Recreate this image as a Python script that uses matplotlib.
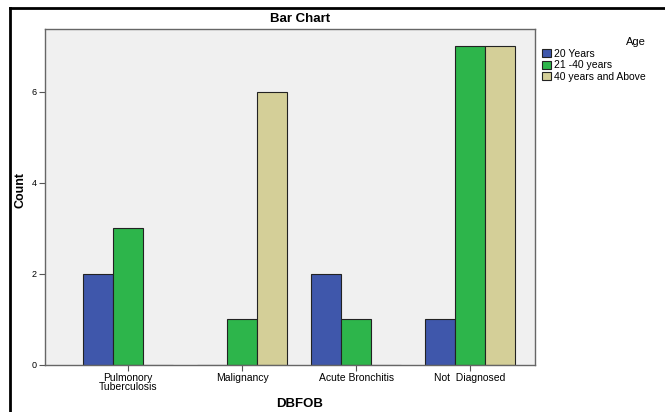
import matplotlib.pyplot as plt
import numpy as np
from matplotlib.lines import Line2D

plt.rcParams['font.family'] = ['Liberation Sans', 'DejaVu Sans']

categories = ["Pulmonory\nTuberculosis", "Malignancy", "Acute Bronchitis", "Not  Diagnosed"]
age_groups = ["20 Years", "21 -40 years", "40 years and Above"]
counts_20 = [2, 0, 2, 1]
counts_21_40 = [3, 1, 1, 7]
counts_40_plus = [0, 6, 0, 7]
colors = ["#3f57ab", "#2db54b", "#d4cf98"]

fig = plt.figure(figsize=(6.65, 4.12), dpi=100)
W, H = 665, 412
ax = fig.add_axes([45 / W, 1 - 365 / H, (535 - 45) / W, (365 - 29) / H])
ax.set_facecolor("#f0f0f0")

x = np.arange(len(categories))
w = 0.265
for i, (vals, c, lab) in enumerate(zip([counts_20, counts_21_40, counts_40_plus], colors, age_groups)):
    ax.bar(x + (i - 1) * w, vals, width=w, color=c, edgecolor="#222222",
           linewidth=0.8, label=lab)

ax.set_xlim(-0.73, 3.57)
ax.set_ylim(0, 7.38)
ax.set_yticks([0, 2, 4, 6])
ax.set_xticks(x)
ax.set_xticklabels(categories, fontsize=7.5, linespacing=0.85)
ax.tick_params(axis="y", labelsize=6.5, length=4, width=0.8, color="#555555", pad=2)
ax.tick_params(axis="x", length=4, width=0.8, color="#555555", pad=2)
for s in ax.spines.values():
    s.set_color("#666666")
    s.set_linewidth(1.0)

ax.set_ylabel("Count", fontsize=9, fontweight="bold")
ax.yaxis.set_label_coords(21 / W, 1 - 190 / H, transform=fig.transFigure)
ax.set_xlabel("DBFOB", fontsize=9.5, fontweight="bold")
ax.xaxis.set_label_coords(300 / W, 1 - 404 / H, transform=fig.transFigure)
ax.xaxis.label.set_va("center")
ax.yaxis.label.set_va("center")
fig.text(300 / W, 1 - 19 / H, "Bar Chart", ha="center", va="center",
         fontsize=9.5, fontweight="bold")

leg = ax.legend(loc="upper left", bbox_to_anchor=(538 / W, 1 - 33 / H),
                bbox_transform=fig.transFigure, frameon=False, fontsize=7.5,
                title="Age", title_fontsize=8, handlelength=0.8, handleheight=0.8,
                handletextpad=0.3, labelspacing=0.15, borderaxespad=0)
leg._legend_box.align = "right"

# outer frame (left and top edges)
fig.add_artist(Line2D([10 / W, 10 / W], [0, 1 - 8 / H], color="black", lw=2,
                      transform=fig.transFigure))
fig.add_artist(Line2D([10 / W, 1], [1 - 8 / H, 1 - 8 / H], color="black", lw=2,
                      transform=fig.transFigure))

fig.savefig("out.png", dpi=100)
